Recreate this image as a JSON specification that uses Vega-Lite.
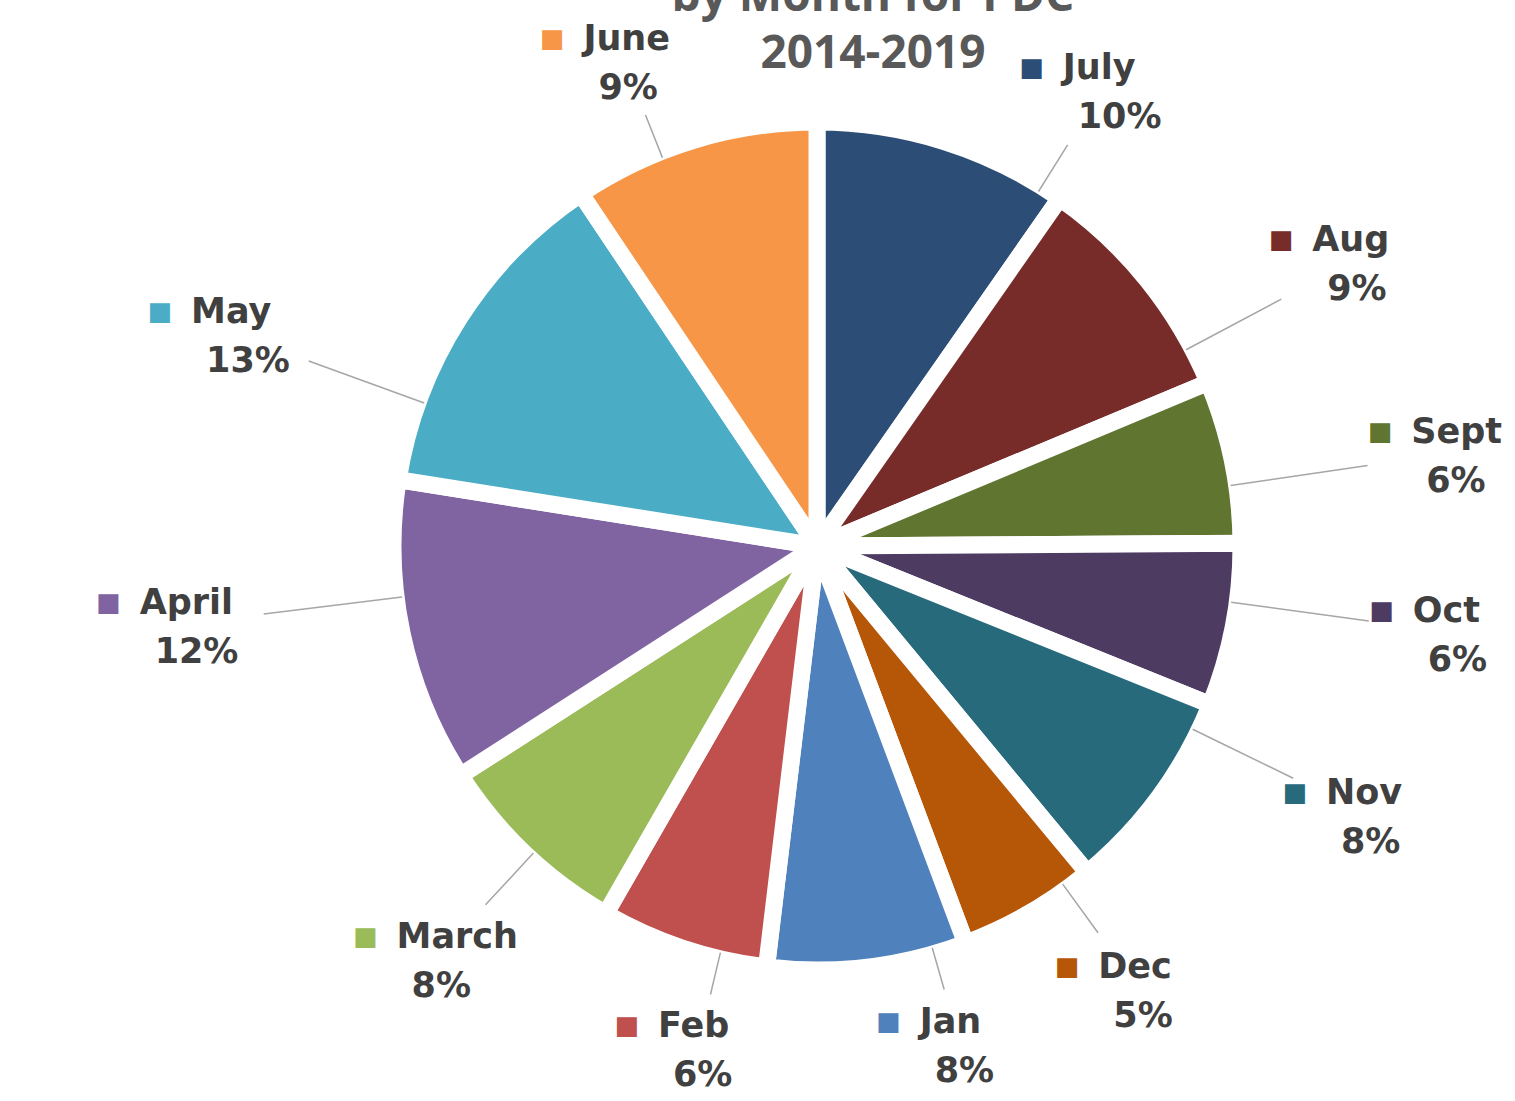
{
  "$schema": "https://vega.github.io/schema/vega-lite/v6.json",
  "width": 1396,
  "height": 1092,
  "autosize": {"type": "none"},
  "padding": {"left": 119, "top": 0, "right": 0, "bottom": 9},
  "background": "white",
  "config": {"view": {"stroke": null}},
  "title": {
    "text": ["by Month for PDC", "2014-2019"],
    "anchor": "middle",
    "frame": "group",
    "dx": 56,
    "offset": -124,
    "fontSize": 46,
    "font": "Open Sans",
    "fontWeight": "bold",
    "color": "#595959",
    "lineHeight": 57,
    "baseline": "bottom"
  },
  "data": {
    "values": [
      {"month": "July", "share": 0.097},
      {"month": "Aug", "share": 0.090},
      {"month": "Sept", "share": 0.062},
      {"month": "Oct", "share": 0.062},
      {"month": "Nov", "share": 0.079},
      {"month": "Dec", "share": 0.053},
      {"month": "Jan", "share": 0.076},
      {"month": "Feb", "share": 0.064},
      {"month": "March", "share": 0.076},
      {"month": "April", "share": 0.116},
      {"month": "May", "share": 0.131},
      {"month": "June", "share": 0.094}
    ]
  },
  "transform": [{"stack": "share", "groupby": [], "as": ["s0", "s1"]}],
  "layer": [
    {
      "mark": {"type": "arc", "radius": 424, "stroke": "white", "strokeWidth": 17, "strokeJoin": "round"},
      "encoding": {
        "theta": {"field": "s0", "type": "quantitative", "scale": {"domain": [0, 1], "range": [0, 6.283185]}},
        "theta2": {"field": "s1"},
        "color": {
          "field": "month",
          "type": "nominal",
          "scale": {
            "domain": ["July", "Aug", "Sept", "Oct", "Nov", "Dec", "Jan", "Feb", "March", "April", "May", "June"],
            "range": ["#2C4D75", "#772C2A", "#5F7530", "#4D3B62", "#276A7C", "#B65708", "#4F81BD", "#C0504D", "#9BBB59", "#8064A2", "#4BACC6", "#F79646"]
          },
          "legend": null
        }
      }
    },
    {
      "mark": {
        "type": "arc",
        "radius": 418,
        "radius2": {"expr": "328950/sqrt(pow(510*sin(((datum.s0+datum.s1)<0.097?(datum.s0+datum.s1)*5.7577:(datum.s0+datum.s1)<0.284?0.5585+((datum.s0+datum.s1)-0.097)*2.8:(datum.s0+datum.s1)<0.701?1.0821+((datum.s0+datum.s1)-0.284)*2.2602:(datum.s0+datum.s1)<0.833?2.0246+((datum.s0+datum.s1)-0.701)*3.7023:(datum.s0+datum.s1)<0.962?2.5133+((datum.s0+datum.s1)-0.833)*2.7054:(datum.s0+datum.s1)<1.434?2.8623+((datum.s0+datum.s1)-0.962)*3.6608:(datum.s0+datum.s1)<1.681?4.5902+((datum.s0+datum.s1)-1.434)*1.9081:(datum.s0+datum.s1)<1.906?5.0615+((datum.s0+datum.s1)-1.681)*3.7462:5.9044+((datum.s0+datum.s1)-1.906)*4.0298)),2)+pow(645*cos(((datum.s0+datum.s1)<0.097?(datum.s0+datum.s1)*5.7577:(datum.s0+datum.s1)<0.284?0.5585+((datum.s0+datum.s1)-0.097)*2.8:(datum.s0+datum.s1)<0.701?1.0821+((datum.s0+datum.s1)-0.284)*2.2602:(datum.s0+datum.s1)<0.833?2.0246+((datum.s0+datum.s1)-0.701)*3.7023:(datum.s0+datum.s1)<0.962?2.5133+((datum.s0+datum.s1)-0.833)*2.7054:(datum.s0+datum.s1)<1.434?2.8623+((datum.s0+datum.s1)-0.962)*3.6608:(datum.s0+datum.s1)<1.681?4.5902+((datum.s0+datum.s1)-1.434)*1.9081:(datum.s0+datum.s1)<1.906?5.0615+((datum.s0+datum.s1)-1.681)*3.7462:5.9044+((datum.s0+datum.s1)-1.906)*4.0298)),2)) - 45 - 40*abs(sin(((datum.s0+datum.s1)<0.097?(datum.s0+datum.s1)*5.7577:(datum.s0+datum.s1)<0.284?0.5585+((datum.s0+datum.s1)-0.097)*2.8:(datum.s0+datum.s1)<0.701?1.0821+((datum.s0+datum.s1)-0.284)*2.2602:(datum.s0+datum.s1)<0.833?2.0246+((datum.s0+datum.s1)-0.701)*3.7023:(datum.s0+datum.s1)<0.962?2.5133+((datum.s0+datum.s1)-0.833)*2.7054:(datum.s0+datum.s1)<1.434?2.8623+((datum.s0+datum.s1)-0.962)*3.6608:(datum.s0+datum.s1)<1.681?4.5902+((datum.s0+datum.s1)-1.434)*1.9081:(datum.s0+datum.s1)<1.906?5.0615+((datum.s0+datum.s1)-1.681)*3.7462:5.9044+((datum.s0+datum.s1)-1.906)*4.0298)))"},
        "theta": {"expr": "((datum.s0+datum.s1)<0.097?(datum.s0+datum.s1)*5.7577:(datum.s0+datum.s1)<0.284?0.5585+((datum.s0+datum.s1)-0.097)*2.8:(datum.s0+datum.s1)<0.701?1.0821+((datum.s0+datum.s1)-0.284)*2.2602:(datum.s0+datum.s1)<0.833?2.0246+((datum.s0+datum.s1)-0.701)*3.7023:(datum.s0+datum.s1)<0.962?2.5133+((datum.s0+datum.s1)-0.833)*2.7054:(datum.s0+datum.s1)<1.434?2.8623+((datum.s0+datum.s1)-0.962)*3.6608:(datum.s0+datum.s1)<1.681?4.5902+((datum.s0+datum.s1)-1.434)*1.9081:(datum.s0+datum.s1)<1.906?5.0615+((datum.s0+datum.s1)-1.681)*3.7462:5.9044+((datum.s0+datum.s1)-1.906)*4.0298)"},
        "theta2": {"expr": "((datum.s0+datum.s1)<0.097?(datum.s0+datum.s1)*5.7577:(datum.s0+datum.s1)<0.284?0.5585+((datum.s0+datum.s1)-0.097)*2.8:(datum.s0+datum.s1)<0.701?1.0821+((datum.s0+datum.s1)-0.284)*2.2602:(datum.s0+datum.s1)<0.833?2.0246+((datum.s0+datum.s1)-0.701)*3.7023:(datum.s0+datum.s1)<0.962?2.5133+((datum.s0+datum.s1)-0.833)*2.7054:(datum.s0+datum.s1)<1.434?2.8623+((datum.s0+datum.s1)-0.962)*3.6608:(datum.s0+datum.s1)<1.681?4.5902+((datum.s0+datum.s1)-1.434)*1.9081:(datum.s0+datum.s1)<1.906?5.0615+((datum.s0+datum.s1)-1.681)*3.7462:5.9044+((datum.s0+datum.s1)-1.906)*4.0298)"},
        "stroke": "#A6A6A6",
        "strokeWidth": 1.5,
        "fillOpacity": 0
      },
      "encoding": {}
    },
    {
      "mark": {
        "type": "text",
        "text": "■",
        "font": "DejaVu Sans",
        "fontSize": 26,
        "align": "center",
        "baseline": "middle",
        "dx": -71,
        "dy": -21,
        "theta": {"expr": "((datum.s0+datum.s1)<0.097?(datum.s0+datum.s1)*5.7577:(datum.s0+datum.s1)<0.284?0.5585+((datum.s0+datum.s1)-0.097)*2.8:(datum.s0+datum.s1)<0.701?1.0821+((datum.s0+datum.s1)-0.284)*2.2602:(datum.s0+datum.s1)<0.833?2.0246+((datum.s0+datum.s1)-0.701)*3.7023:(datum.s0+datum.s1)<0.962?2.5133+((datum.s0+datum.s1)-0.833)*2.7054:(datum.s0+datum.s1)<1.434?2.8623+((datum.s0+datum.s1)-0.962)*3.6608:(datum.s0+datum.s1)<1.681?4.5902+((datum.s0+datum.s1)-1.434)*1.9081:(datum.s0+datum.s1)<1.906?5.0615+((datum.s0+datum.s1)-1.681)*3.7462:5.9044+((datum.s0+datum.s1)-1.906)*4.0298)"},
        "radius": {"expr": "328950/sqrt(pow(510*sin(((datum.s0+datum.s1)<0.097?(datum.s0+datum.s1)*5.7577:(datum.s0+datum.s1)<0.284?0.5585+((datum.s0+datum.s1)-0.097)*2.8:(datum.s0+datum.s1)<0.701?1.0821+((datum.s0+datum.s1)-0.284)*2.2602:(datum.s0+datum.s1)<0.833?2.0246+((datum.s0+datum.s1)-0.701)*3.7023:(datum.s0+datum.s1)<0.962?2.5133+((datum.s0+datum.s1)-0.833)*2.7054:(datum.s0+datum.s1)<1.434?2.8623+((datum.s0+datum.s1)-0.962)*3.6608:(datum.s0+datum.s1)<1.681?4.5902+((datum.s0+datum.s1)-1.434)*1.9081:(datum.s0+datum.s1)<1.906?5.0615+((datum.s0+datum.s1)-1.681)*3.7462:5.9044+((datum.s0+datum.s1)-1.906)*4.0298)),2)+pow(645*cos(((datum.s0+datum.s1)<0.097?(datum.s0+datum.s1)*5.7577:(datum.s0+datum.s1)<0.284?0.5585+((datum.s0+datum.s1)-0.097)*2.8:(datum.s0+datum.s1)<0.701?1.0821+((datum.s0+datum.s1)-0.284)*2.2602:(datum.s0+datum.s1)<0.833?2.0246+((datum.s0+datum.s1)-0.701)*3.7023:(datum.s0+datum.s1)<0.962?2.5133+((datum.s0+datum.s1)-0.833)*2.7054:(datum.s0+datum.s1)<1.434?2.8623+((datum.s0+datum.s1)-0.962)*3.6608:(datum.s0+datum.s1)<1.681?4.5902+((datum.s0+datum.s1)-1.434)*1.9081:(datum.s0+datum.s1)<1.906?5.0615+((datum.s0+datum.s1)-1.681)*3.7462:5.9044+((datum.s0+datum.s1)-1.906)*4.0298)),2))"}
      },
      "encoding": {
        "color": {"field": "month", "type": "nominal", "legend": null}
      }
    },
    {
      "mark": {
        "type": "text",
        "font": "DejaVu Sans",
        "fontWeight": "bold",
        "fontSize": 35,
        "color": "#404040",
        "align": "left",
        "baseline": "alphabetic",
        "dx": -40,
        "dy": -10,
        "theta": {"expr": "((datum.s0+datum.s1)<0.097?(datum.s0+datum.s1)*5.7577:(datum.s0+datum.s1)<0.284?0.5585+((datum.s0+datum.s1)-0.097)*2.8:(datum.s0+datum.s1)<0.701?1.0821+((datum.s0+datum.s1)-0.284)*2.2602:(datum.s0+datum.s1)<0.833?2.0246+((datum.s0+datum.s1)-0.701)*3.7023:(datum.s0+datum.s1)<0.962?2.5133+((datum.s0+datum.s1)-0.833)*2.7054:(datum.s0+datum.s1)<1.434?2.8623+((datum.s0+datum.s1)-0.962)*3.6608:(datum.s0+datum.s1)<1.681?4.5902+((datum.s0+datum.s1)-1.434)*1.9081:(datum.s0+datum.s1)<1.906?5.0615+((datum.s0+datum.s1)-1.681)*3.7462:5.9044+((datum.s0+datum.s1)-1.906)*4.0298)"},
        "radius": {"expr": "328950/sqrt(pow(510*sin(((datum.s0+datum.s1)<0.097?(datum.s0+datum.s1)*5.7577:(datum.s0+datum.s1)<0.284?0.5585+((datum.s0+datum.s1)-0.097)*2.8:(datum.s0+datum.s1)<0.701?1.0821+((datum.s0+datum.s1)-0.284)*2.2602:(datum.s0+datum.s1)<0.833?2.0246+((datum.s0+datum.s1)-0.701)*3.7023:(datum.s0+datum.s1)<0.962?2.5133+((datum.s0+datum.s1)-0.833)*2.7054:(datum.s0+datum.s1)<1.434?2.8623+((datum.s0+datum.s1)-0.962)*3.6608:(datum.s0+datum.s1)<1.681?4.5902+((datum.s0+datum.s1)-1.434)*1.9081:(datum.s0+datum.s1)<1.906?5.0615+((datum.s0+datum.s1)-1.681)*3.7462:5.9044+((datum.s0+datum.s1)-1.906)*4.0298)),2)+pow(645*cos(((datum.s0+datum.s1)<0.097?(datum.s0+datum.s1)*5.7577:(datum.s0+datum.s1)<0.284?0.5585+((datum.s0+datum.s1)-0.097)*2.8:(datum.s0+datum.s1)<0.701?1.0821+((datum.s0+datum.s1)-0.284)*2.2602:(datum.s0+datum.s1)<0.833?2.0246+((datum.s0+datum.s1)-0.701)*3.7023:(datum.s0+datum.s1)<0.962?2.5133+((datum.s0+datum.s1)-0.833)*2.7054:(datum.s0+datum.s1)<1.434?2.8623+((datum.s0+datum.s1)-0.962)*3.6608:(datum.s0+datum.s1)<1.681?4.5902+((datum.s0+datum.s1)-1.434)*1.9081:(datum.s0+datum.s1)<1.906?5.0615+((datum.s0+datum.s1)-1.681)*3.7462:5.9044+((datum.s0+datum.s1)-1.906)*4.0298)),2))"}
      },
      "encoding": {
        "text": {"field": "month", "type": "nominal"}
      }
    },
    {
      "mark": {
        "type": "text",
        "font": "DejaVu Sans",
        "fontWeight": "bold",
        "fontSize": 35,
        "color": "#404040",
        "align": "left",
        "baseline": "alphabetic",
        "dx": -25,
        "dy": 39,
        "theta": {"expr": "((datum.s0+datum.s1)<0.097?(datum.s0+datum.s1)*5.7577:(datum.s0+datum.s1)<0.284?0.5585+((datum.s0+datum.s1)-0.097)*2.8:(datum.s0+datum.s1)<0.701?1.0821+((datum.s0+datum.s1)-0.284)*2.2602:(datum.s0+datum.s1)<0.833?2.0246+((datum.s0+datum.s1)-0.701)*3.7023:(datum.s0+datum.s1)<0.962?2.5133+((datum.s0+datum.s1)-0.833)*2.7054:(datum.s0+datum.s1)<1.434?2.8623+((datum.s0+datum.s1)-0.962)*3.6608:(datum.s0+datum.s1)<1.681?4.5902+((datum.s0+datum.s1)-1.434)*1.9081:(datum.s0+datum.s1)<1.906?5.0615+((datum.s0+datum.s1)-1.681)*3.7462:5.9044+((datum.s0+datum.s1)-1.906)*4.0298)"},
        "radius": {"expr": "328950/sqrt(pow(510*sin(((datum.s0+datum.s1)<0.097?(datum.s0+datum.s1)*5.7577:(datum.s0+datum.s1)<0.284?0.5585+((datum.s0+datum.s1)-0.097)*2.8:(datum.s0+datum.s1)<0.701?1.0821+((datum.s0+datum.s1)-0.284)*2.2602:(datum.s0+datum.s1)<0.833?2.0246+((datum.s0+datum.s1)-0.701)*3.7023:(datum.s0+datum.s1)<0.962?2.5133+((datum.s0+datum.s1)-0.833)*2.7054:(datum.s0+datum.s1)<1.434?2.8623+((datum.s0+datum.s1)-0.962)*3.6608:(datum.s0+datum.s1)<1.681?4.5902+((datum.s0+datum.s1)-1.434)*1.9081:(datum.s0+datum.s1)<1.906?5.0615+((datum.s0+datum.s1)-1.681)*3.7462:5.9044+((datum.s0+datum.s1)-1.906)*4.0298)),2)+pow(645*cos(((datum.s0+datum.s1)<0.097?(datum.s0+datum.s1)*5.7577:(datum.s0+datum.s1)<0.284?0.5585+((datum.s0+datum.s1)-0.097)*2.8:(datum.s0+datum.s1)<0.701?1.0821+((datum.s0+datum.s1)-0.284)*2.2602:(datum.s0+datum.s1)<0.833?2.0246+((datum.s0+datum.s1)-0.701)*3.7023:(datum.s0+datum.s1)<0.962?2.5133+((datum.s0+datum.s1)-0.833)*2.7054:(datum.s0+datum.s1)<1.434?2.8623+((datum.s0+datum.s1)-0.962)*3.6608:(datum.s0+datum.s1)<1.681?4.5902+((datum.s0+datum.s1)-1.434)*1.9081:(datum.s0+datum.s1)<1.906?5.0615+((datum.s0+datum.s1)-1.681)*3.7462:5.9044+((datum.s0+datum.s1)-1.906)*4.0298)),2))"}
      },
      "encoding": {
        "text": {"field": "share", "type": "quantitative", "format": ".0%"}
      }
    }
  ]
}
